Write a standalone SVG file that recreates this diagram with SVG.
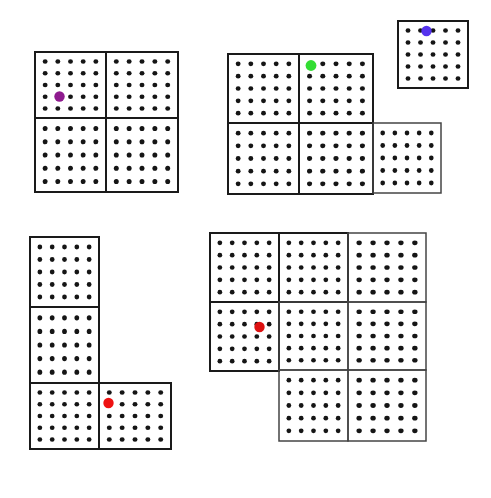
<svg xmlns="http://www.w3.org/2000/svg" xmlns:xlink="http://www.w3.org/1999/xlink" width="491" height="498" viewBox="0 0 491 498">
<style>
.cell{fill:none;stroke:#1a1a1a;stroke-width:2}
.thin{stroke:#444;stroke-width:1.5}
.d{fill:#151515}
</style>
<defs>
<symbol id="dots" viewBox="0 0 70 70" preserveAspectRatio="none">
<g class="d">
<circle cx="10" cy="10" r="2.4"/><circle cx="22.5" cy="10" r="2.4"/><circle cx="35" cy="10" r="2.4"/><circle cx="47.5" cy="10" r="2.4"/><circle cx="60" cy="10" r="2.4"/>
<circle cx="10" cy="22.5" r="2.4"/><circle cx="22.5" cy="22.5" r="2.4"/><circle cx="35" cy="22.5" r="2.4"/><circle cx="47.5" cy="22.5" r="2.4"/><circle cx="60" cy="22.5" r="2.4"/>
<circle cx="10" cy="35" r="2.4"/><circle cx="22.5" cy="35" r="2.4"/><circle cx="35" cy="35" r="2.4"/><circle cx="47.5" cy="35" r="2.4"/><circle cx="60" cy="35" r="2.4"/>
<circle cx="10" cy="47.5" r="2.4"/><circle cx="22.5" cy="47.5" r="2.4"/><circle cx="35" cy="47.5" r="2.4"/><circle cx="47.5" cy="47.5" r="2.4"/><circle cx="60" cy="47.5" r="2.4"/>
<circle cx="10" cy="60" r="2.4"/><circle cx="22.5" cy="60" r="2.4"/><circle cx="35" cy="60" r="2.4"/><circle cx="47.5" cy="60" r="2.4"/><circle cx="60" cy="60" r="2.4"/>
</g>
</symbol>
</defs>
<rect width="491" height="498" fill="#fff"/>

<g id="shape1">
<rect class="cell" x="35" y="52" width="71" height="66"/><use xlink:href="#dots" x="35" y="52" width="71" height="66"/>
<rect class="cell" x="106" y="52" width="72" height="66"/><use xlink:href="#dots" x="106" y="52" width="72" height="66"/>
<rect class="cell" x="35" y="118" width="71" height="74"/><use xlink:href="#dots" x="35" y="118" width="71" height="74"/>
<rect class="cell" x="106" y="118" width="72" height="74"/><use xlink:href="#dots" x="106" y="118" width="72" height="74"/>
<circle cx="59.5" cy="96.5" r="5.2" fill="#8e1a8e"/>
</g>

<g id="shape2">
<rect class="cell" x="228" y="54" width="71" height="69"/><use xlink:href="#dots" x="228" y="54" width="71" height="69"/>
<rect class="cell" x="299" y="54" width="74" height="69"/><use xlink:href="#dots" x="299" y="54" width="74" height="69"/>
<rect class="cell" x="228" y="123" width="71" height="71"/><use xlink:href="#dots" x="228" y="123" width="71" height="71"/>
<rect class="cell" x="299" y="123" width="74" height="71"/><use xlink:href="#dots" x="299" y="123" width="74" height="71"/>
<rect class="cell thin" x="373" y="123" width="68" height="70"/><use xlink:href="#dots" x="373" y="123" width="68" height="70"/>
<circle cx="311" cy="65.5" r="5.4" fill="#33dd33"/>
</g>

<g id="shape3">
<rect class="cell" x="398" y="21" width="70" height="67"/><use xlink:href="#dots" x="398" y="21" width="70" height="67"/>
<circle cx="426.5" cy="31" r="5.2" fill="#5533ee"/>
</g>

<g id="shape4">
<rect class="cell" x="30" y="237" width="69" height="70"/><use xlink:href="#dots" x="30" y="237" width="69" height="70"/>
<rect class="cell" x="30" y="307" width="69" height="76"/><use xlink:href="#dots" x="30" y="307" width="69" height="76"/>
<rect class="cell" x="30" y="383" width="69" height="66"/><use xlink:href="#dots" x="30" y="383" width="69" height="66"/>
<rect class="cell" x="99" y="383" width="72" height="66"/><use xlink:href="#dots" x="99" y="383" width="72" height="66"/>
<circle cx="108.5" cy="403" r="5.2" fill="#ee1111"/>
</g>

<g id="shape5">
<rect class="cell" x="210" y="233" width="69" height="69"/><use xlink:href="#dots" x="210" y="233" width="69" height="69"/>
<rect class="cell" x="279" y="233" width="69" height="69"/><use xlink:href="#dots" x="279" y="233" width="69" height="69"/>
<rect class="cell thin" x="348" y="233" width="78" height="69"/><use xlink:href="#dots" x="348" y="233" width="78" height="69"/>
<rect class="cell" x="210" y="302" width="69" height="69"/><use xlink:href="#dots" x="210" y="302" width="69" height="69"/>
<rect class="cell thin" x="279" y="302" width="69" height="68"/><use xlink:href="#dots" x="279" y="302" width="69" height="68"/>
<rect class="cell thin" x="348" y="302" width="78" height="68"/><use xlink:href="#dots" x="348" y="302" width="78" height="68"/>
<rect class="cell thin" x="279" y="370" width="69" height="71"/><use xlink:href="#dots" x="279" y="370" width="69" height="71"/>
<rect class="cell thin" x="348" y="370" width="78" height="71"/><use xlink:href="#dots" x="348" y="370" width="78" height="71"/>
<circle cx="259.5" cy="327" r="5.2" fill="#dd1111"/>
</g>

<g id="connectors"></g>
</svg>
